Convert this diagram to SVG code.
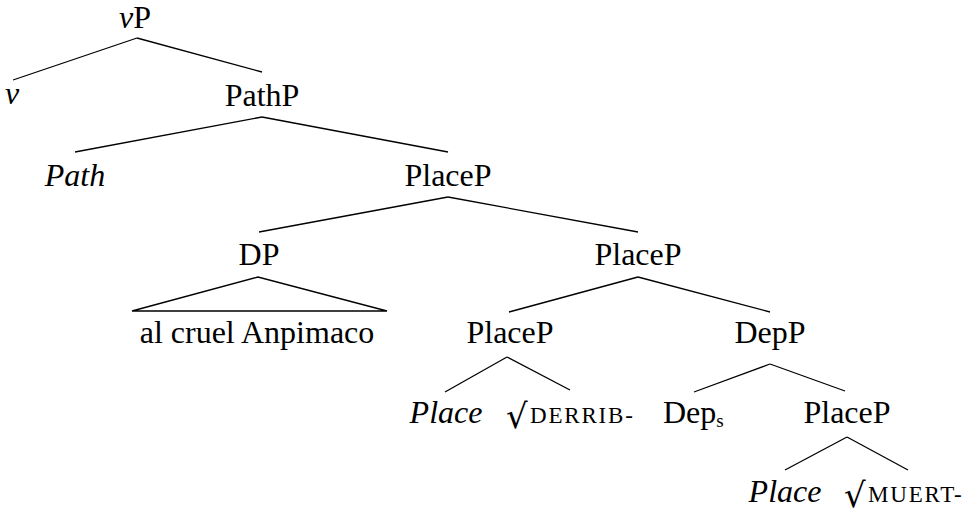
<svg xmlns="http://www.w3.org/2000/svg" width="976" height="515" viewBox="0 0 976 515" font-family="'Liberation Serif','Times New Roman',serif">
<style>
text{font-family:"Liberation Serif","Times New Roman",serif;font-size:32px;fill:#000;}
.c{text-anchor:middle;}
.i{font-style:italic;}
.sc{font-size:23px;letter-spacing:1.8px;}
.rad{font-family:"DejaVu Serif",serif;font-size:34px;}
.sub{font-size:19px;}
#edges line,#edges polygon{stroke:#000;stroke-width:1.3;fill:none;}
</style>
<rect width="976" height="515" fill="#fff"/>
<g id="edges">
<line x1="137" y1="38" x2="13" y2="80"/>
<line x1="137" y1="38" x2="262" y2="72"/>
<line x1="262" y1="117" x2="75" y2="152"/>
<line x1="262" y1="117" x2="448" y2="152"/>
<line x1="448" y1="197" x2="259" y2="232"/>
<line x1="448" y1="197" x2="638" y2="232"/>
<polygon points="258,277 132,311 387,311"/>
<line x1="638" y1="277" x2="509" y2="312"/>
<line x1="638" y1="277" x2="770" y2="312"/>
<line x1="507" y1="357" x2="445" y2="392"/>
<line x1="507" y1="357" x2="570" y2="390"/>
<line x1="770" y1="364" x2="694" y2="392"/>
<line x1="770" y1="364" x2="845" y2="391"/>
<line x1="847" y1="437" x2="785" y2="470"/>
<line x1="847" y1="437" x2="908" y2="470"/>
</g>
<g id="vP"><text x="135" y="28" class="c"><tspan class="i">v</tspan>P</text></g>
<g id="v"><text x="12" y="104" class="c i">v</text></g>
<g id="PathP"><text x="262" y="106" class="c">PathP</text></g>
<g id="Path"><text x="75" y="186" class="c i">Path</text></g>
<g id="PlaceP1"><text x="448" y="186" class="c">PlaceP</text></g>
<g id="DP"><text x="259" y="265" class="c">DP</text></g>
<g id="DPcontent"><text x="257" y="343" class="c">al cruel Anpimaco</text></g>
<g id="PlaceP2"><text x="638" y="265" class="c">PlaceP</text></g>
<g id="PlaceP3"><text x="510" y="343" class="c">PlaceP</text></g>
<g id="DepP"><text x="770" y="343" class="c">DepP</text></g>
<g id="Place1"><text x="446" y="423" class="c i">Place</text></g>
<g id="derrib"><text y="423"><tspan x="506" y="428" class="rad">√</tspan><tspan x="530" y="423" class="sc">DERRIB-</tspan></text></g>
<g id="Deps"><text x="663" y="423">Dep<tspan class="sub" dy="4">s</tspan></text></g>
<g id="PlaceP4"><text x="847" y="423" class="c">PlaceP</text></g>
<g id="Place2"><text x="785" y="502" class="c i">Place</text></g>
<g id="muert"><text y="502"><tspan x="844" y="507" class="rad">√</tspan><tspan x="868" y="502" class="sc">MUERT-</tspan></text></g>
</svg>
